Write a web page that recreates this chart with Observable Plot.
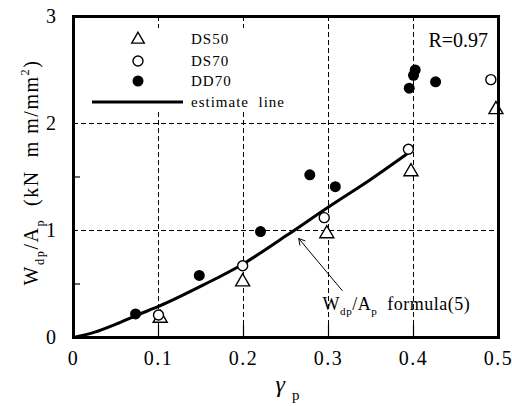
<!DOCTYPE html>
<html>
<head>
<meta charset="utf-8">
<script src="https://cdn.jsdelivr.net/npm/d3@7"></script>
<script src="https://cdn.jsdelivr.net/npm/@observablehq/plot@0.6"></script>
<style>
  html, body { margin: 0; padding: 0; background: #fff; }
  #chart svg { display: block; }
</style>
</head>
<body>
<div id="chart"></div>
<script>
// Dissipated energy per plastic-zone area against plastic rotation γp
const ds50 = [
  {x: 0.102, y: 0.18}, {x: 0.199, y: 0.52}, {x: 0.298, y: 0.97},
  {x: 0.397, y: 1.55}, {x: 0.497, y: 2.13}
];
const ds70 = [
  {x: 0.100, y: 0.21}, {x: 0.199, y: 0.67}, {x: 0.295, y: 1.12},
  {x: 0.394, y: 1.76}, {x: 0.491, y: 2.41}
];
const dd70 = [
  {x: 0.073, y: 0.22}, {x: 0.148, y: 0.58}, {x: 0.220, y: 0.99},
  {x: 0.278, y: 1.52}, {x: 0.308, y: 1.41}, {x: 0.395, y: 2.33},
  {x: 0.400, y: 2.45}, {x: 0.402, y: 2.50}, {x: 0.426, y: 2.39}
];
// estimate line, formula (5)
const estimateX = [0, 0.025, 0.05, 0.075, 0.1, 0.15, 0.2, 0.25, 0.3, 0.35, 0.393];
const estimateY = [0, 0.05, 0.125, 0.21, 0.29, 0.48, 0.69, 0.95, 1.22, 1.48, 1.72];
const estimate = estimateX.map((x, i) => ({x, y: estimateY[i]}));

const xTicks = [0, 0.1, 0.2, 0.3, 0.4, 0.5];
const yTicks = [0, 1, 2, 3];
const xGrid = [0.1, 0.2, 0.3, 0.4];
const yGrid = [1, 2];
const yMinor = [0.5, 1.5, 2.5];

const legendLabels = ["DS50", "DS70", "DD70", "estimate  line"];
const correlation = "R=0.97";
const pointer = [{x1: 0.316, y1: 0.44, x2: 0.265, y2: 0.925}];

const serif = "'Liberation Serif', 'Times New Roman', serif";

// writes text with sub/superscript parts into an SVG text element
function richText(text, parts, size) {
  let shift = 0;
  for (const [t, kind] of parts) {
    const target = kind === "sub" ? 0.3 * size : kind === "sup" ? -0.45 * size : 0;
    const ts = text.append("tspan").text(t).attr("dy", target - shift);
    if (kind) ts.attr("font-size", size * 0.62);
    shift = target;
  }
}

// titles, legend, annotation label and correlation text
function overlay(index, scales, values, dims) {
  const {width, height, marginLeft: ml, marginTop: mt, marginRight: mr, marginBottom: mb} = dims;
  const g = d3.create("svg:g")
    .attr("font-family", serif)
    .attr("fill", "black")
    .attr("text-anchor", "start")
    .style("white-space", "pre");

  // legend
  const lg = g.append("g");
  lg.append("rect").attr("x", ml + 2).attr("y", mt + 12)
    .attr("width", 236).attr("height", 84).attr("fill", "white");
  const rows = [mt + 23, mt + 45, mt + 65, mt + 86];
  const sx = ml + 65;
  lg.append("path").attr("transform", `translate(${sx},${rows[0] + 0.5})`)
    .attr("d", d3.symbol(d3.symbolTriangle2, Math.PI * 36)())
    .attr("fill", "white").attr("stroke", "black").attr("stroke-width", 1.4);
  lg.append("circle").attr("cx", sx).attr("cy", rows[1]).attr("r", 5)
    .attr("fill", "white").attr("stroke", "black").attr("stroke-width", 1.4);
  lg.append("circle").attr("cx", sx).attr("cy", rows[2]).attr("r", 5.5)
    .attr("fill", "black");
  lg.append("line").attr("x1", ml + 19).attr("x2", ml + 110)
    .attr("y1", rows[3]).attr("y2", rows[3])
    .attr("stroke", "black").attr("stroke-width", 3);
  legendLabels.forEach((label, i) => {
    lg.append("text").attr("x", ml + 118).attr("y", rows[i]).attr("dy", "0.35em")
      .attr("font-size", 15).attr("letter-spacing", 1).text(label);
  });

  // correlation
  g.append("text").attr("x", width - mr - 10).attr("y", mt + 31)
    .attr("text-anchor", "end").attr("font-size", 20).text(correlation);

  // annotation label at the tail of the pointer
  const p = pointer[0];
  const at = g.append("text")
    .attr("x", scales.x(p.x1) - 19).attr("y", scales.y(p.y1) + 20)
    .attr("font-size", 18).attr("letter-spacing", 0.5);
  richText(at, [["W"], ["dp", "sub"], ["/A"], ["p", "sub"], ["  formula(5)"]], 18);

  // y-axis title
  const yt = g.append("text")
    .attr("transform", `translate(38,${mt + (height - mt - mb) / 2 - 4}) rotate(-90)`)
    .attr("text-anchor", "middle").attr("font-size", 20).attr("letter-spacing", 1.5);
  richText(yt, [["W"], ["dp", "sub"], ["/A"], ["p", "sub"], ["  (kN  m m/mm"], ["2", "sup"], [")"]], 20);

  // x-axis title
  const xt = g.append("text")
    .attr("x", ml + (width - ml - mr) / 2 + 2).attr("y", height - 14)
    .attr("text-anchor", "middle").attr("font-size", 24);
  xt.append("tspan").attr("font-style", "italic").text("γ");
  xt.append("tspan").attr("font-size", 15).attr("dx", 7).attr("dy", 8).text("p");

  return g.node();
}

const chart = Plot.plot({
  width: 512,
  height: 406,
  marginLeft: 73,
  marginRight: 14,
  marginTop: 16,
  marginBottom: 69,
  x: {domain: [0, 0.5]},
  y: {domain: [0, 3]},
  style: {fontFamily: serif, background: "white", color: "black"},
  marks: [
    Plot.ruleX(xGrid, {stroke: "black", strokeWidth: 1, strokeDasharray: "5,3"}),
    Plot.ruleY(yGrid, {stroke: "black", strokeWidth: 1, strokeDasharray: "5,3"}),
    Plot.tickX(xGrid, {x: d => d, stroke: "black", strokeWidth: 1.2, insetTop: 309}),
    Plot.tickY(yMinor, {y: d => d, stroke: "black", strokeWidth: 1.2, insetRight: 418}),
    Plot.axisX({ticks: xTicks, tickSize: 0, tickPadding: 13, fontSize: 20, label: null,
                tickFormat: d => String(d)}),
    Plot.axisY({ticks: yTicks, tickSize: 0, tickPadding: 16, fontSize: 20, label: null,
                tickFormat: d => String(d)}),
    overlay,
    Plot.line(estimate, {x: "x", y: "y", stroke: "black", strokeWidth: 3, curve: "monotone-x"}),
    Plot.arrow(pointer, {x1: "x1", y1: "y1", x2: "x2", y2: "y2", stroke: "black",
                         strokeWidth: 1, headLength: 10, bend: 0}),
    Plot.dot(ds50, {x: "x", y: "y", symbol: "triangle", r: 5.2, fill: "white",
                    stroke: "black", strokeWidth: 1.4}),
    Plot.dot(ds70, {x: "x", y: "y", r: 5, fill: "white", stroke: "black", strokeWidth: 1.4}),
    Plot.dot(dd70, {x: "x", y: "y", r: 5.5, fill: "black", stroke: "none"}),
    Plot.frame({stroke: "black", strokeWidth: 3})
  ]
});

d3.select(chart).selectAll('g[aria-label="x-axis tick label"] text, g[aria-label="y-axis tick label"] text')
  .attr("letter-spacing", 1.5);

document.getElementById("chart").append(chart);
</script>
</body>
</html>
